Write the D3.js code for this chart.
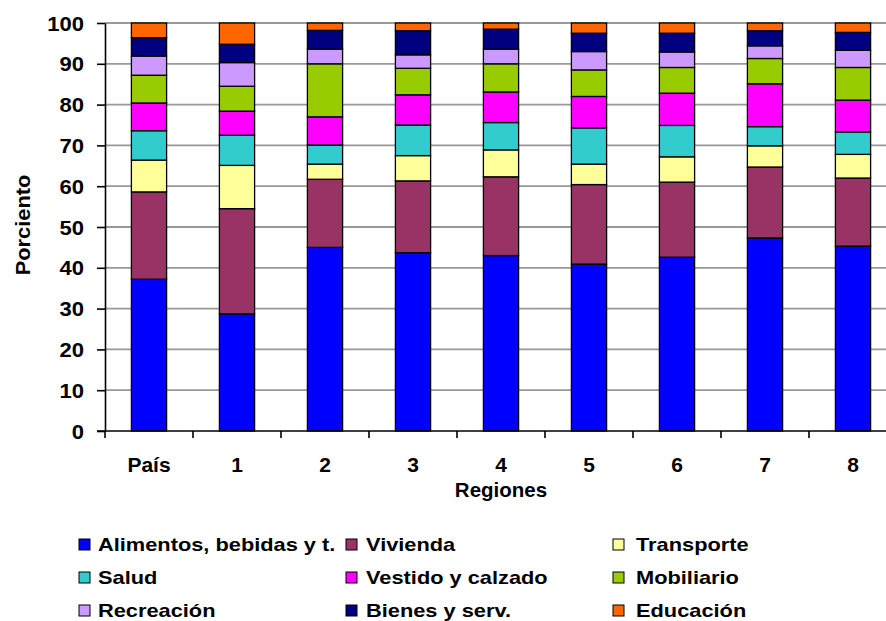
<!DOCTYPE html>
<html>
<head>
<meta charset="utf-8">
<script src="https://cdn.jsdelivr.net/npm/d3@7/dist/d3.min.js"></script>
<style>
  html, body { margin: 0; padding: 0; background: #fff; }
  svg { display: block; font-family: "Liberation Sans", Arial, sans-serif; font-weight: bold; }
  svg text { fill: #000; }
</style>
</head>
<body>
<svg id="chart" width="886" height="621"></svg>
<script>
// Regions on the x axis
const regiones = ["País", "1", "2", "3", "4", "5", "6", "7", "8"];

// Spending groups, bottom to top
const grupos = ["Alimentos, bebidas y t.", "Vivienda", "Transporte", "Salud",
  "Vestido y calzado", "Mobiliario", "Recreación", "Bienes y serv.", "Educación"];
const colores = ["#0000FF", "#993366", "#FFFF99", "#33CCCC", "#FF00FF",
  "#99CC00", "#CC99FF", "#000080", "#FF6600"];

// Percent share of each group per region
const alimentos  = [37.2, 28.7, 45.0, 43.7, 43.0, 40.9, 42.6, 47.3, 45.3];
const vivienda   = [21.4, 25.8, 16.7, 17.6, 19.3, 19.5, 18.4, 17.4, 16.7];
const transporte = [ 7.8, 10.6,  3.7,  6.2,  6.6,  5.0,  6.2,  5.2,  5.8];
const salud      = [ 7.2,  7.4,  4.7,  7.5,  6.7,  8.9,  7.7,  4.7,  5.5];
const vestido    = [ 6.8,  5.9,  6.9,  7.4,  7.5,  7.7,  7.9, 10.5,  7.8];
const mobiliario = [ 6.8,  6.1, 13.0,  6.5,  6.9,  6.5,  6.3,  6.2,  8.0];
const recreacion = [ 4.7,  5.8,  3.6,  3.3,  3.6,  4.5,  3.8,  3.1,  4.2];
const bienes     = [ 4.5,  4.5,  4.6,  5.9,  4.9,  4.5,  4.6,  3.7,  4.4];
const educacion  = [ 3.6,  5.2,  1.8,  1.9,  1.5,  2.5,  2.5,  1.9,  2.3];

const yTicks = [0, 10, 20, 30, 40, 50, 60, 70, 80, 90, 100];

const series = [alimentos, vivienda, transporte, salud, vestido,
  mobiliario, recreacion, bienes, educacion];

// Table for d3.stack
const rows = regiones.map((r, i) => {
  const o = { region: r };
  grupos.forEach((g, k) => { o[g] = series[k][i]; });
  return o;
});
const stacked = d3.stack().keys(grupos)(rows);

const svg = d3.select("#chart");
const plotLeft = 105, plotTop = 23, plotBottom = 431, plotRight = 897;
const wide = 1.13; // horizontal widening of the bold lettering

const x = d3.scaleBand().domain(regiones).range([plotLeft, plotRight])
  .paddingInner(0.6).paddingOuter(0.3);
const y = d3.scaleLinear().domain([0, 100]).range([plotBottom, plotTop]);

// Horizontal gridlines
svg.append("g").selectAll("line").data(yTicks.filter(t => t > 0)).join("line")
  .attr("x1", plotLeft).attr("x2", plotRight)
  .attr("y1", d => y(d)).attr("y2", d => y(d))
  .attr("stroke", "#999").attr("stroke-width", 1.8);

// Stacked bars
svg.append("g").selectAll("g").data(stacked).join("g")
  .attr("fill", (d, i) => colores[i])
  .selectAll("rect").data(d => d).join("rect")
  .attr("x", d => x(d.data.region))
  .attr("y", d => y(d[1]))
  .attr("width", x.bandwidth())
  .attr("height", d => y(d[0]) - y(d[1]))
  .attr("stroke", "#000").attr("stroke-width", 1.3);

// Y axis
const yAxis = svg.append("g").attr("transform", `translate(${plotLeft},0)`)
  .call(d3.axisLeft(y).tickValues(yTicks).tickSize(8).tickSizeOuter(0));
yAxis.select(".domain").attr("stroke", "#000").attr("stroke-width", 1.6);
yAxis.selectAll(".tick line").attr("stroke", "#000").attr("stroke-width", 1.6);
yAxis.selectAll(".tick text")
  .attr("x", null).attr("dy", null).attr("y", 7)
  .attr("transform", `translate(-21,0) scale(${wide},1)`)
  .attr("text-anchor", "end")
  .attr("font-size", 19.5).attr("font-weight", "bold")
  .attr("font-family", "'Liberation Sans', Arial, sans-serif");

// X axis with ticks between categories
const xAxisG = svg.append("g");
xAxisG.append("line").attr("x1", plotLeft - 8).attr("x2", plotRight)
  .attr("y1", plotBottom).attr("y2", plotBottom)
  .attr("stroke", "#000").attr("stroke-width", 1.6);
const step = x.step();
const sepTicks = d3.range(regiones.length + 1).map(i => plotLeft + i * step);
xAxisG.selectAll("line.sep").data(sepTicks).join("line").attr("class", "sep")
  .attr("x1", d => d).attr("x2", d => d)
  .attr("y1", plotBottom).attr("y2", plotBottom + 7)
  .attr("stroke", "#000").attr("stroke-width", 1.6);
xAxisG.selectAll("text").data(regiones).join("text")
  .attr("transform", d => `translate(${x(d) + x.bandwidth() / 2},472)`)
  .attr("text-anchor", "middle")
  .attr("font-size", 21)
  .text(d => d);

// Axis titles
svg.append("text").attr("transform", "translate(501,497)").attr("text-anchor", "middle")
  .attr("font-size", 20.5).text("Regiones");
svg.append("text").attr("transform", "translate(30,225) rotate(-90) scale(1.12,1)")
  .attr("text-anchor", "middle").attr("font-size", 19.5).text("Porciento");

// Legend, three columns
const legSwatch = [79, 346, 613];
const legText = [98, 366, 636];
const legY = [551, 584, 617];
const leg = svg.append("g").selectAll("g").data(grupos).join("g");
leg.append("rect")
  .attr("x", (d, i) => legSwatch[i % 3])
  .attr("y", (d, i) => legY[Math.floor(i / 3)] - 12)
  .attr("width", 11).attr("height", 11)
  .attr("fill", (d, i) => colores[i]).attr("stroke", "#000").attr("stroke-width", 1);
leg.append("text")
  .attr("transform", (d, i) =>
    `translate(${legText[i % 3]},${legY[Math.floor(i / 3)]}) scale(1.16,1)`)
  .attr("font-size", 18.8).text(d => d);
</script>
</body>
</html>
